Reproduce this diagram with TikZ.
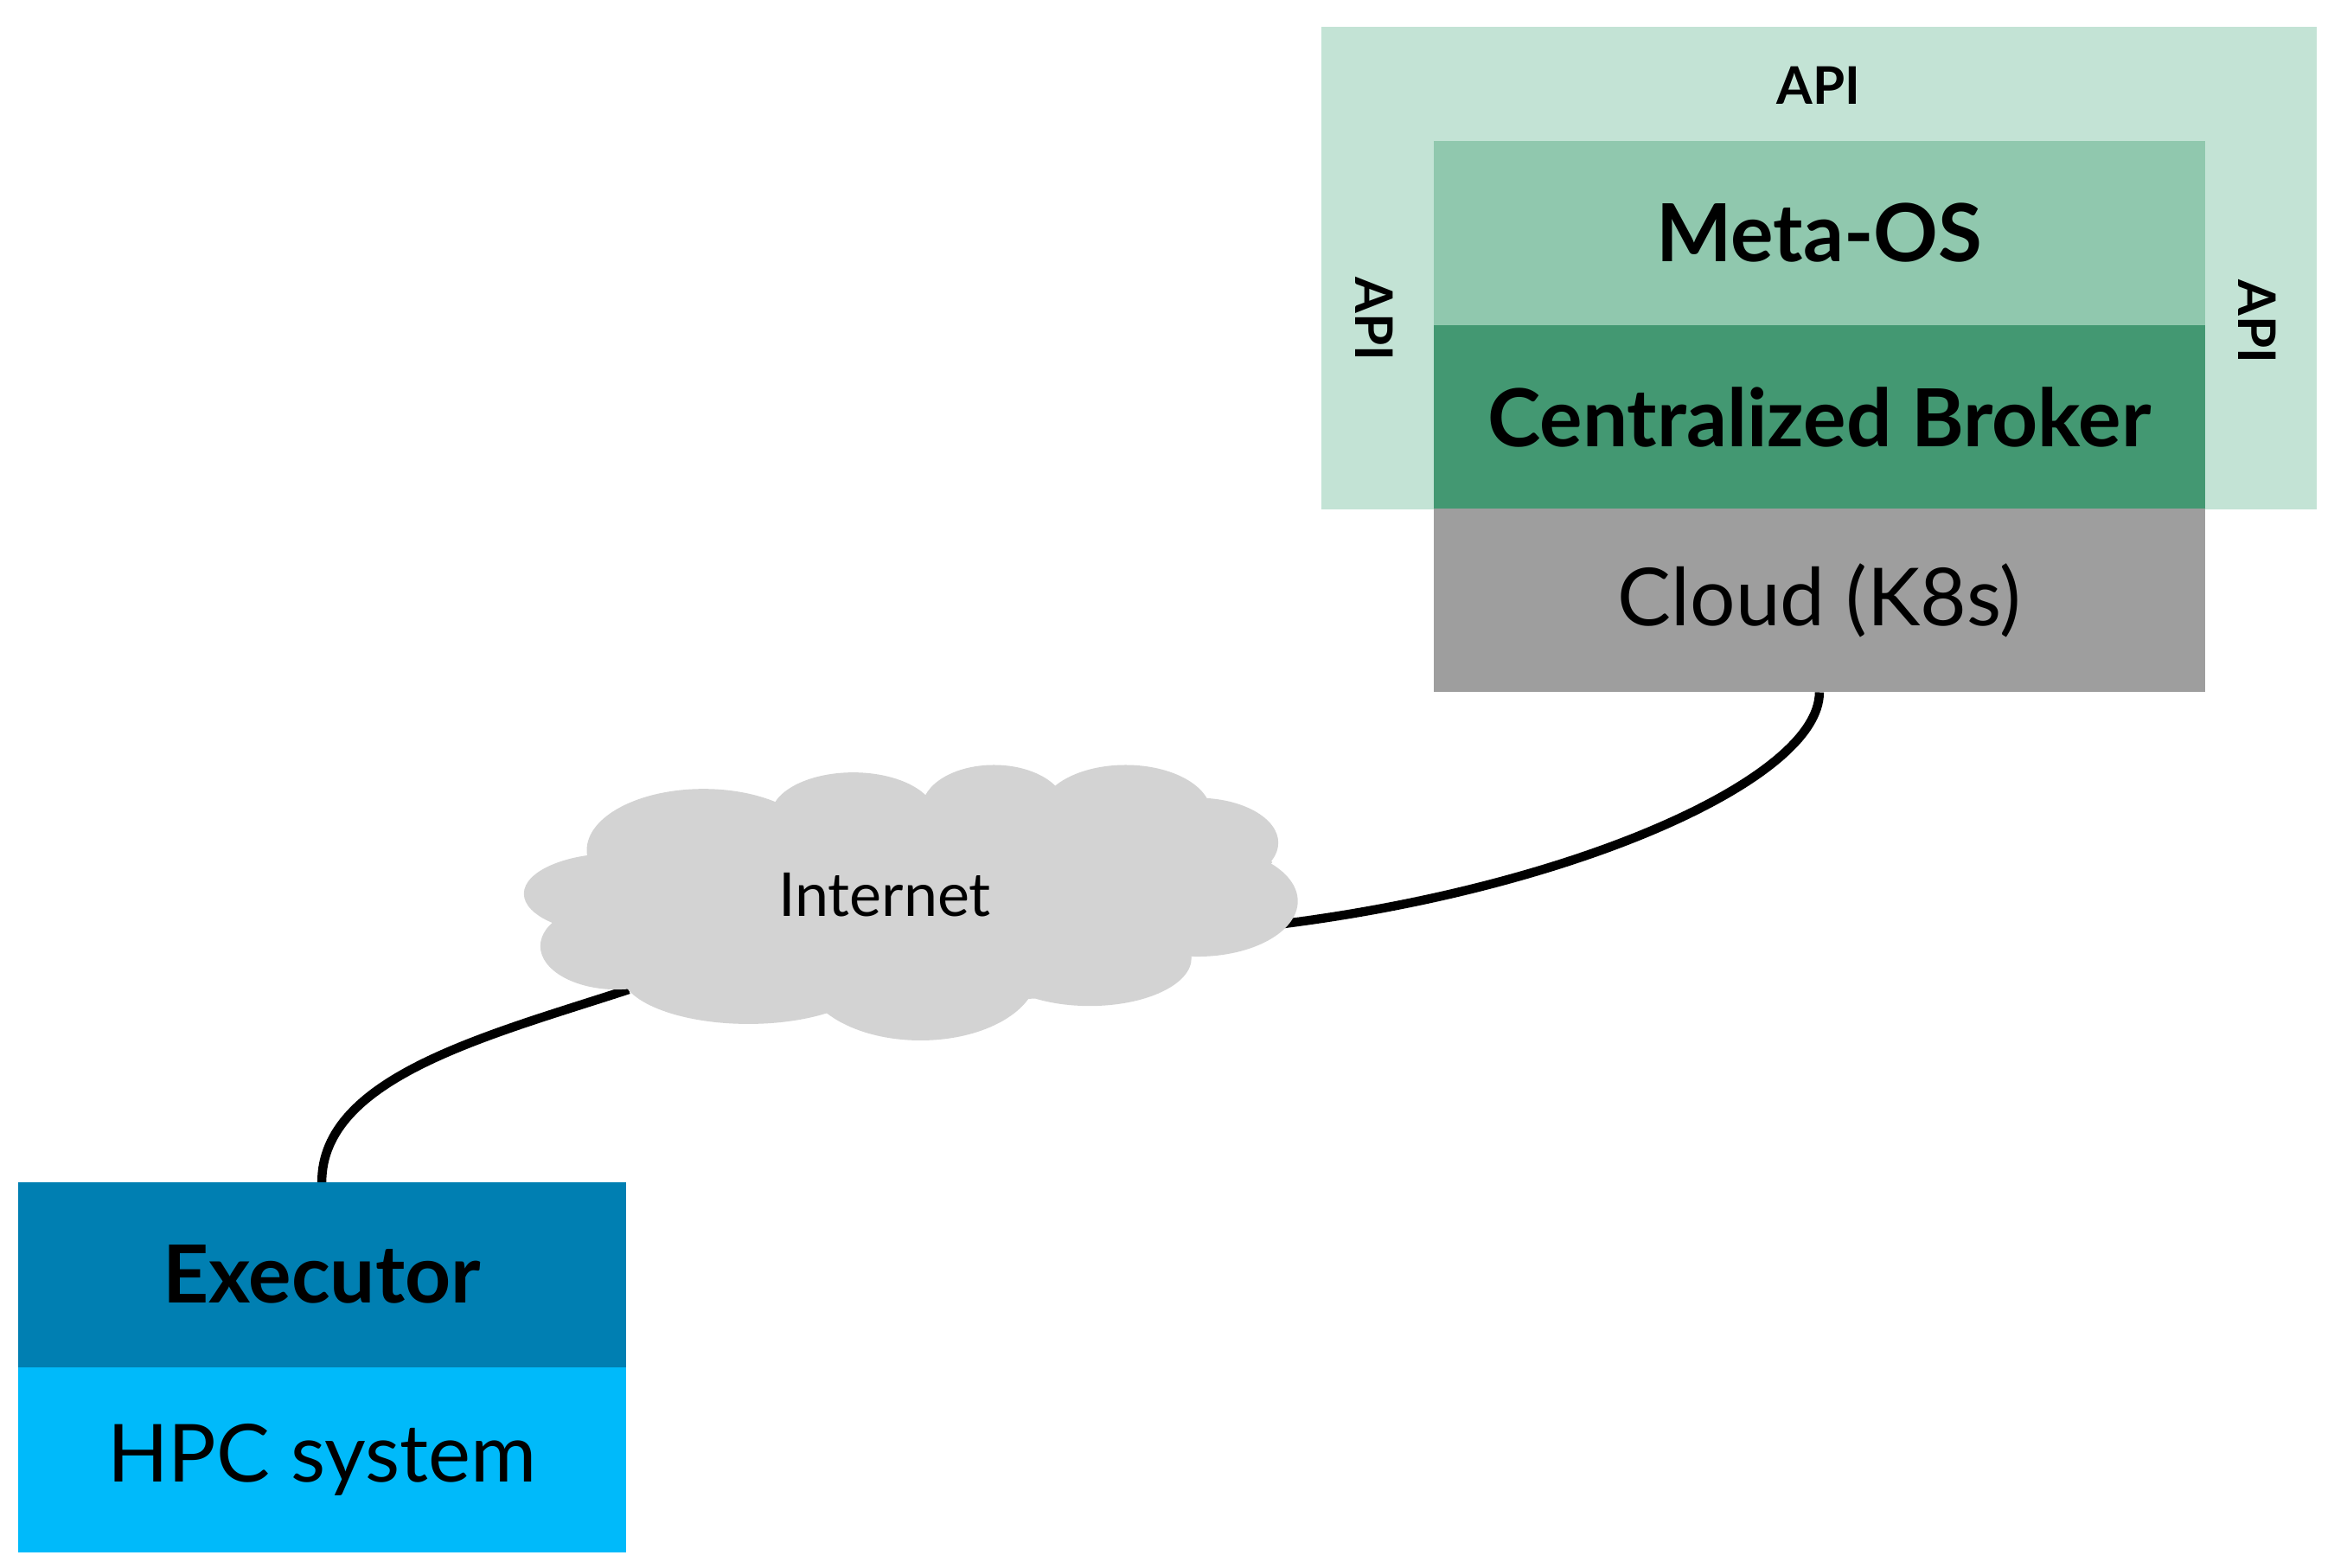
\documentclass[tikz,border=0pt]{standalone}
\usepackage{fontspec}
\setmainfont{Lato}
\usetikzlibrary{backgrounds}
\definecolor{apigreen}{HTML}{C3E3D5}
\definecolor{metagreen}{HTML}{90C8AE}
\definecolor{brokergreen}{HTML}{439872}
\definecolor{cloudgray}{HTML}{9E9E9E}
\definecolor{execblue}{HTML}{007FB2}
\definecolor{hpcblue}{HTML}{00BAFA}
\definecolor{netgray}{HTML}{D3D3D3}
\tikzset{
  layer/.style={rectangle, inner sep=0pt, outer sep=0pt, draw=none, minimum width=445.7pt, minimum height=106.4pt, font=\fontsize{46.3}{50}\selectfont},
  boldlayer/.style={layer, font=\fontsize{46.3}{50}\selectfont\bfseries},
  apilabel/.style={inner sep=0pt, font=\fontsize{30}{34}\selectfont\bfseries},
  wire/.style={line width=5.2pt, black},
  puff/.style={fill=netgray, draw=none},
}
\begin{document}
\begin{tikzpicture}[x=0.8654pt,y=-0.8654pt]
\useasboundingbox (0,0) rectangle (1568,1047);
% API frame
\node[rectangle, fill=apigreen, inner sep=0pt, minimum width=575.5pt, minimum height=278.7pt] (apiframe) at (1215.5,179) {};
\node[apilabel] (apitop) at (1215,57) {API};
\node[apilabel, rotate=-90] (apileft) at (918,213) {API};
\node[apilabel, rotate=-90] (apiright) at (1508,215) {API};
% stack
\node[boldlayer, fill=metagreen] (meta) at (1215.5,155.5) {Meta-OS};
\node[boldlayer, fill=brokergreen] (broker) at (1215.5,278.5) {Centralized Broker};
\node[layer, fill=cloudgray] (k8s) at (1215.5,401) {Cloud (K8s)};
% executor
\node[boldlayer, fill=execblue, minimum width=351.4pt, minimum height=106.9pt] (exec) at (215,851.5) {Executor};
\node[layer, fill=hpcblue, minimum width=351.4pt, minimum height=106.9pt] (hpc) at (215,975) {HPC system};
% internet cloud (union of puffs)
\fill[puff] (396,572) -- (518,537) -- (619,531) -- (706,526) -- (808,534) -- (850,576) -- (796,639) -- (691,667) -- (547,677) -- (421,661) -- (375,619) -- cycle;
\fill[puff] (470,568) ellipse [x radius=78, y radius=41];
\fill[puff] (570,545) ellipse [x radius=55, y radius=29];
\fill[puff] (664,540) ellipse [x radius=48, y radius=29];
\fill[puff] (752,543) ellipse [x radius=57, y radius=32];
\fill[puff] (800,563) ellipse [x radius=54, y radius=30];
\fill[puff] (800,602) ellipse [x radius=67, y radius=37];
\fill[puff] (728,640) ellipse [x radius=68, y radius=32];
\fill[puff] (615,650) ellipse [x radius=78, y radius=45];
\fill[puff] (500,650) ellipse [x radius=85, y radius=34];
\fill[puff] (412,632) ellipse [x radius=51, y radius=29];
\fill[puff] (412,597) ellipse [x radius=62, y radius=27];
\node[inner sep=0pt, font=\fontsize{35}{38}\selectfont] (net) at (591,598) {Internet};
\coordinate (netE) at (850,618);
\coordinate (netW) at (420,661);
\begin{scope}[on background layer]
\draw[wire] (k8s.south) .. controls +(0,58) and +(200,-24) .. (netE);
\draw[wire] (netW) .. controls +(-95,31) and +(0,-70) .. (exec.north);
\end{scope}
\end{tikzpicture}
\end{document}
